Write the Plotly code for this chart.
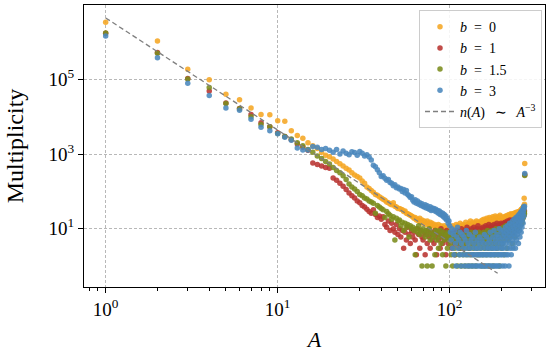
import plotly.graph_objects as go

A = list(range(1, 274))

mult_b0 = [3390000, 1070000, 186000, 98000, 40000, 28200, 17000, 11500, 11200, 7800,
           7600, 4200, 3150, 2630, 2000, 1660, 1410, 1120, 930, 850,
           740, 630, 550, 480, 417, 372, 316, 275, 251, 229,
           190, 166, 132, 120, 105, 95, 83, 79, 72, 66,
           62, 58, 52, 50, 46, 44, 50, 40, 38, 35,
           35, 33, 32, 29, 30, 26, 25, 24, 23, 22,
           21, 19, 20, 17, 18, 16, 19, 15, 17, 14, 16, 15, 13, 16, 14, 12, 15, 13, 14, 12,
           12, 13, 11, 12, 10, 13, 11, 9, 12, 10, 11, 9, 12, 10, 8, 11, 10, 9, 11, 10,
           9, 11, 8, 12, 10, 7, 11, 9, 13, 10, 8, 12, 11, 9, 14, 10, 12, 8, 11, 13,
           9, 12, 10, 15, 11, 9, 13, 12, 10, 14, 11, 16, 12, 10, 13, 11, 15, 12, 9, 14,
           13, 11, 16, 12, 10, 15, 13, 11, 14, 12,
           13, 16, 12, 15, 17, 11, 14, 18, 13, 16, 15, 12, 17, 19, 14, 16, 13, 18, 15, 20,
           14, 17, 16, 13, 19, 15, 18, 21, 14, 17, 16, 19, 15, 22, 18, 16, 20, 17, 15, 19,
           21, 18, 16, 20, 17, 23, 19, 16, 21, 18,
           16, 13, 18, 15, 20, 14, 17, 21, 15, 19, 16, 22, 18, 14, 20, 17, 23, 19, 16, 21,
           18, 24, 20, 17, 22, 19, 25, 21, 18, 23, 20, 24, 22, 19, 25, 21, 26, 23, 20, 24,
           22, 27, 23, 21, 26, 23, 28, 24, 22, 27,
           24, 29, 25, 23, 28, 30, 25, 29, 31, 27, 33, 29, 34, 31, 35, 33, 37, 34, 40, 36,
           65, 45, 560]

mult_b1 = [1700000, 525000, 105000, 49000, 23400, 16600, 11500, 6900, 5370, 3720,
           2950, 2400, 1860, 1510, 1260, 575, 525, 479, 437, 417,
           229, 200, 166, 138, 112, 91, 76, 66, 55, 50,
           42, 38, 33, 29, 26, 32, 24, 20, 22, 18,
           21, 13, 11, 16, 9, 14, 10, 8, 13, 7,
           10, 6, 9, 3, 8, 5, 11, 7, 4, 9,
           6, 8, 5, 2, 10, 7, 3, 9, 6, 5, 8, 2, 7, 4, 9, 6, 3, 8, 5, 7,
           4, 9, 6, 2, 8, 5, 7, 3, 10, 6, 4, 8, 5, 7, 2, 9, 6, 4, 8, 5,
           5, 7, 3, 6, 8, 4, 2, 7, 5, 9, 6, 4, 8, 3, 7, 5, 10, 6, 3, 8,
           7, 5, 9, 4, 6, 11, 7, 5, 8, 3, 9, 6, 7, 10, 5, 8, 4, 11, 7, 6,
           9, 8, 5, 10, 7, 12, 6, 8, 9, 5,
           8, 10, 6, 9, 7, 11, 8, 5, 10, 9, 7, 12, 8, 6, 11, 9, 10, 7, 13, 8,
           9, 11, 6, 10, 12, 8, 9, 7, 11, 10, 13, 8, 9, 12, 7, 11, 10, 14, 9, 8,
           12, 11, 9, 13, 10, 8, 12, 11, 14, 9,
           11, 13, 10, 12, 9, 14, 11, 13, 10, 15, 12, 11, 14, 10, 13, 12, 16, 11, 14, 13,
           12, 15, 11, 17, 13, 14, 12, 16, 13, 15, 11, 14, 17, 13, 15, 12, 16, 14, 13, 18,
           15, 14, 17, 13, 16, 15, 19, 14, 17, 16,
           16, 19, 17, 15, 20, 18, 16, 21, 19, 17, 22, 18, 20, 23, 19, 21, 24, 22, 25, 23,
           27, 30, 280]

mult_b15 = [1740000, 500000, 102000, 60000, 22400, 16200, 10000, 6170, 5370, 3550,
            2950, 2510, 2000, 1660, 1320, 1120, 890, 760, 630, 537,
            437, 363, 316, 263, 209, 158, 132, 115, 100, 83,
            76, 66, 63, 55, 52, 48, 26, 42, 38, 35,
            32, 20, 29, 25, 23, 18, 21, 5, 19, 16,
            17, 12, 15, 9, 14, 11, 13, 6, 12, 10,
            11, 9, 2, 10, 8, 12, 7, 9, 1, 10, 8, 6, 9, 1, 7, 10, 5, 8, 1, 6,
            7, 2, 9, 5, 8, 3, 6, 9, 4, 7, 2, 8, 5, 6, 1, 7, 3, 8, 5, 6,
            4, 2, 6, 1, 5, 7, 3, 2, 6, 4, 1, 5, 8, 2, 3, 6, 1, 4, 7, 2,
            5, 3, 1, 6, 4, 2, 7, 5, 1, 3, 6, 2, 4, 8, 1, 5, 3, 2, 6, 4,
            7, 1, 5, 3, 2, 6, 4, 8, 2, 5,
            3, 6, 1, 4, 7, 2, 5, 8, 3, 1, 6, 4, 7, 2, 5, 9, 3, 6, 1, 4,
            8, 5, 2, 7, 6, 3, 9, 4, 1, 5, 8, 6, 2, 7, 4, 10, 5, 3, 8, 6,
            2, 9, 7, 4, 1, 6, 10, 5, 8, 3,
            7, 9, 4, 6, 11, 8, 2, 7, 10, 5, 9, 12, 6, 8, 3, 10, 7, 11, 9, 5,
            13, 8, 10, 6, 12, 9, 14, 7, 11, 10, 4, 13, 9, 12, 8, 15, 11, 10, 14, 6,
            12, 16, 9, 13, 11, 15, 10, 17, 12, 14,
            13, 16, 11, 18, 14, 12, 17, 15, 19, 13, 16, 20, 18, 15, 22, 19, 24, 21, 26, 23,
            28, 25, 265]

mult_b3 = [1450000, 380000, 79000, 37000, 17000, 14800, 8500, 5250, 4170, 3470,
           2820, 2340, 1450, 1290, 1290, 1580, 1510, 1320, 1410, 1260,
           1120, 1320, 1000, 1200, 1050, 955, 1150, 1100, 933, 1175,
           1050, 890, 955, 830, 690, 500, 457, 380, 316, 251,
           263, 224, 200, 209, 174, 166, 141, 151, 126, 132,
           115, 120, 100, 112, 91, 105, 83, 76, 69, 72,
           58, 52, 60, 48, 55, 45, 50, 42, 47, 40, 38, 44, 36, 41, 35, 33, 39, 31, 36, 32,
           35, 30, 33, 28, 31, 26, 30, 24, 27, 23, 26, 21, 24, 19, 22, 17, 19, 14, 16, 12,
           8, 5, 10, 3, 7, 2, 9, 4, 1, 6, 11, 3, 5, 2, 8, 1, 4, 7, 2, 3,
           6, 1, 5, 2, 9, 3, 1, 4, 2, 7, 1, 3, 5, 2, 1, 6, 2, 4, 1, 3,
           8, 2, 1, 5, 3, 2, 1, 4, 6, 2,
           1, 3, 2, 5, 1, 2, 4, 1, 7, 2, 3, 1, 2, 6, 1, 4, 2, 3, 1, 5,
           2, 8, 1, 3, 2, 4, 1, 6, 2, 3, 9, 1, 2, 5, 3, 1, 4, 7, 2, 1,
           6, 3, 2, 10, 1, 5, 4, 2, 8, 3,
           2, 6, 1, 4, 9, 3, 2, 7, 5, 1, 11, 4, 2, 8, 6, 3, 12, 2, 5, 9,
           1, 7, 14, 4, 3, 10, 6, 2, 13, 8, 5, 16, 3, 11, 7, 4, 18, 9, 6, 14,
           3, 12, 20, 8, 5, 17, 10, 7, 22, 13,
           4, 15, 24, 9, 19, 6, 12, 27, 16, 8, 21, 30, 11, 25, 18, 33, 14, 28, 38, 22,
           35, 40, 300]

fit_A = [1, 190]
fit_n = [4.4e6, 0.64]

SP = "\u2002"
SPW = "\u2002\u2009"
series = [
    (f"<i>b</i>{SP}={SP}0", mult_b0, "#F5A623"),
    (f"<i>b</i>{SP}={SP}1", mult_b1, "#B83330"),
    (f"<i>b</i>{SP}={SP}1.5", mult_b15, "#7B8C1C"),
    (f"<i>b</i>{SP}={SP}3", mult_b3, "#4A87BD"),
]

FONT = "Liberation Serif"
fig = go.Figure()
for name, vals, col in series:
    fig.add_trace(go.Scatter(
        x=A, y=vals, mode="markers", name=name,
        marker=dict(size=5.5, color=col, opacity=0.88, line=dict(width=0)),
    ))
fig.add_trace(go.Scatter(
    x=fit_A, y=fit_n, mode="lines",
    name=f"<i>n</i>(<i>A</i>){SPW}\u223c{SPW}<i>A</i><sup>\u22123</sup>",
    line=dict(color="#7f7f7f", width=1.3, dash="5px,3px"),
))

axis_common = dict(
    type="log", showline=True, linecolor="black", linewidth=1, mirror=True,
    ticks="outside", ticklen=5, tickwidth=1, tickcolor="black",
    showgrid=True, gridcolor="#b8b8b8", gridwidth=0.8, griddash="3px,2px",
    zeroline=False, automargin=False,
    tickfont=dict(family=FONT, size=19, color="black"),
)

fig.update_layout(
    width=550, height=354,
    margin=dict(l=84, r=5, t=5, b=67),
    paper_bgcolor="white", plot_bgcolor="white",
    showlegend=True,
    legend=dict(
        x=0.9935, y=0.982, xanchor="right", yanchor="top",
        bgcolor="rgba(255,255,255,0.85)", bordercolor="#cccccc", borderwidth=1,
        font=dict(family=FONT, size=14, color="black"),
    ),
    xaxis=dict(
        **axis_common,
        range=[-0.126, 2.554],
        tickvals=[1, 10, 100],
        ticktext=["10<sup>0</sup>", "10<sup>1</sup>", "10<sup>2</sup>"],
        minor=dict(tickvals=[0.8, 0.9, 2, 3, 4, 5, 6, 7, 8, 9, 20, 30, 40, 50, 60, 70, 80, 90, 200, 300],
                   ticks="outside", ticklen=3, tickcolor="black", tickwidth=1, showgrid=False),
        title=dict(text="<i>A</i>", font=dict(family=FONT, size=22, color="black"), standoff=12),
    ),
    yaxis=dict(
        **axis_common,
        range=[-0.56, 6.99],
        tickvals=[10, 1000, 100000],
        ticktext=["10<sup>1</sup>", "10<sup>3</sup>", "10<sup>5</sup>"],
        title=dict(text="Multiplicity", font=dict(family=FONT, size=24, color="black"), standoff=18),
    ),
)

fig.write_html("out.html", config={"displayModeBar": False},
               post_script="document.body.style.margin='0';document.body.style.overflow='hidden';")
